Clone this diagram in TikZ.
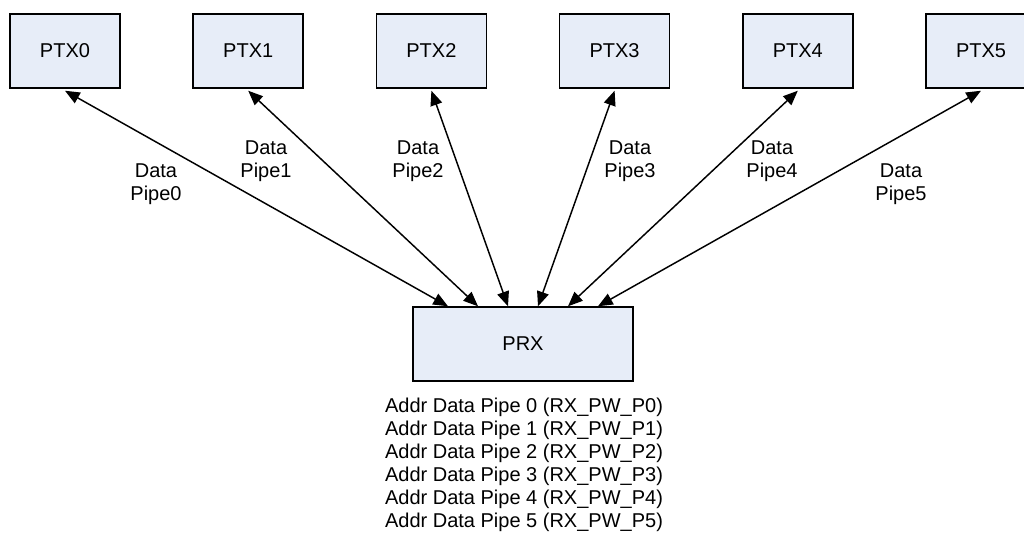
\documentclass[tikz,border=0pt]{standalone}
\usepackage{fontspec}
\setmainfont{Liberation Sans}
\usetikzlibrary{arrows.meta,calc}
\definecolor{boxfill}{HTML}{E7EDF8}
\begin{document}
\begin{tikzpicture}[x=0.75pt,y=-0.75pt,
  box/.style={draw=black,line width=1.1pt,fill=boxfill,minimum width=82.5pt,minimum height=55.5pt,inner sep=0pt,font=\fontsize{15}{17.25}\selectfont},
  lbl/.style={align=center,font=\fontsize{15}{17.25}\selectfont,inner sep=0pt},
  link/.style={line width=1.1pt,{Triangle[length=11pt,width=9pt]}-{Triangle[length=11pt,width=9pt]}}]
\useasboundingbox[fill=white] (0,0) rectangle (1024,543);
\foreach \i in {0,...,5}{
  \node[box] (ptx\i) at ({65+183.2*\i},51) {PTX\i};
}
\node[box,minimum width=165pt] (prx) at (523,344) {PRX};
\foreach \i/\dx in {0/-75,1/-45,2/-15,3/15,4/45,5/75}{
  \draw[link] ($(ptx\i.south)+(0,2)$) -- ($(prx.north)+(\dx,0)$);
}
\node[lbl] (l0) at (156,184) {Data\\Pipe0};
\node[lbl] (l1) at (266,161) {Data\\Pipe1};
\node[lbl] (l2) at (418,161) {Data\\Pipe2};
\node[lbl] (l3) at (630,161) {Data\\Pipe3};
\node[lbl] (l4) at (772,161) {Data\\Pipe4};
\node[lbl] (l5) at (901,184) {Data\\Pipe5};
\node[lbl,anchor=north] (addr) at (524,398) {Addr Data Pipe 0 (RX\_PW\_P0)\\Addr Data Pipe 1 (RX\_PW\_P1)\\Addr Data Pipe 2 (RX\_PW\_P2)\\Addr Data Pipe 3 (RX\_PW\_P3)\\Addr Data Pipe 4 (RX\_PW\_P4)\\Addr Data Pipe 5 (RX\_PW\_P5)};
\end{tikzpicture}
\end{document}
